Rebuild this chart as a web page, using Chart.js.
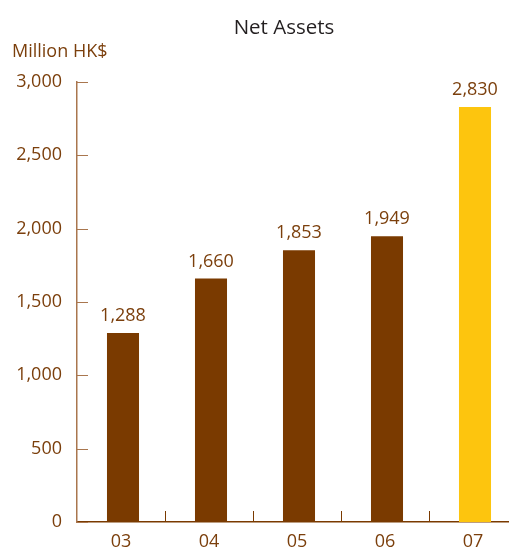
<!DOCTYPE html>
<html>
<head>
<meta charset="utf-8">
<script src="https://cdn.jsdelivr.net/npm/chart.js@4.4.1/dist/chart.umd.min.js"></script>
<style>
  html, body { margin: 0; padding: 0; background: #fff; }
  #wrap { width: 509px; height: 551px; overflow: hidden; }
</style>
</head>
<body>
<div id="wrap"><canvas id="netAssets" width="520" height="551"></canvas></div>
<script>
const years = ['03', '04', '05', '06', '07'];
const netAssets = [1288, 1660, 1853, 1949, 2830];
const barColors = ['#7a3a00', '#7a3a00', '#7a3a00', '#7a3a00', '#fdc50e'];
const yTicks = [0, 500, 1000, 1500, 2000, 2500, 3000];

const textBrown = '#7b3f0c';
const axisLight = '#a9764e';
const axisDark = '#7a3a00';
const fontName = '"Open Sans", "Noto Sans", sans-serif';

// titulo, unidad, etiquetas de valor y marcas hacia dentro
const decoraciones = {
    id: 'decoraciones',
    afterDraw(chart) {
        const c = chart.ctx;
        const x = chart.scales.x;
        const y = chart.scales.y;
        const area = chart.chartArea;
        c.save();

        c.fillStyle = '#231f20';
        c.font = '20.5px ' + fontName;
        c.textAlign = 'center';
        c.textBaseline = 'alphabetic';
        c.fillText('Net Assets', 284, 34);

        c.fillStyle = textBrown;
        c.font = '18px ' + fontName;
        c.textAlign = 'left';
        c.fillText('Million HK$', 12, 57);

        // etiquetas encima de las barras
        c.textAlign = 'center';
        chart.getDatasetMeta(0).data.forEach((bar, i) => {
            c.fillText(netAssets[i].toLocaleString('en-US'), bar.x + 2, bar.y - 12);
        });

        // marcas del eje Y
        c.strokeStyle = axisLight;
        c.lineWidth = 1;
        yTicks.forEach(v => {
            const py = Math.round(y.getPixelForValue(v)) + 0.5;
            c.beginPath();
            c.moveTo(area.left, py);
            c.lineTo(area.left + 11, py);
            c.stroke();
        });

        // marcas del eje X entre categorias
        c.strokeStyle = axisDark;
        for (let i = 0; i < years.length; i++) {
            const px = Math.round(x.getPixelForValue(i + 0.5)) + 0.5;
            c.beginPath();
            c.moveTo(px, area.bottom);
            c.lineTo(px, area.bottom - 11);
            c.stroke();
        }
        c.restore();
    }
};

// las barras del original van un poco a la derecha del centro
const desplazar = {
    id: 'desplazar',
    beforeDatasetsDraw(chart) {
        chart.ctx.save();
        chart.ctx.translate(2, 0);
    },
    afterDatasetsDraw(chart) {
        chart.ctx.restore();
    }
};

const ctx = document.getElementById('netAssets').getContext('2d');

const grafico = new Chart(ctx, {
    type: 'bar',
    data: {
        labels: years,
        datasets: [{
            label: 'Net Assets',
            data: netAssets,
            backgroundColor: barColors,
            borderWidth: 0,
            barPercentage: 0.364,
            categoryPercentage: 1
        }]
    },
    options: {
        responsive: false,
        animation: false,
        devicePixelRatio: 1,
        layout: { padding: { top: 82, right: 3, left: 0, bottom: 0 } },
        plugins: {
            legend: { display: false },
            tooltip: { enabled: false }
        },
        scales: {
            x: {
                offset: true,
                grid: { display: false, drawTicks: false },
                border: { display: true, color: axisDark, width: 1.5 },
                ticks: {
                    color: textBrown,
                    font: { family: fontName, size: 18 },
                    padding: 9
                },
                afterFit(scale) { scale.height = 29; }
            },
            y: {
                min: 0,
                max: 3000,
                afterBuildTicks(scale) { scale.ticks = yTicks.map(v => ({ value: v })); },
                grid: { display: false, drawTicks: false },
                border: { display: true, color: axisLight, width: 1.5 },
                ticks: {
                    color: textBrown,
                    font: { family: fontName, size: 18 },
                    padding: 15,
                    callback: v => v.toLocaleString('en-US')
                },
                afterFit(scale) { scale.width = 77; }
            }
        }
    },
    plugins: [desplazar, decoraciones]
});
</script>
</body>
</html>
